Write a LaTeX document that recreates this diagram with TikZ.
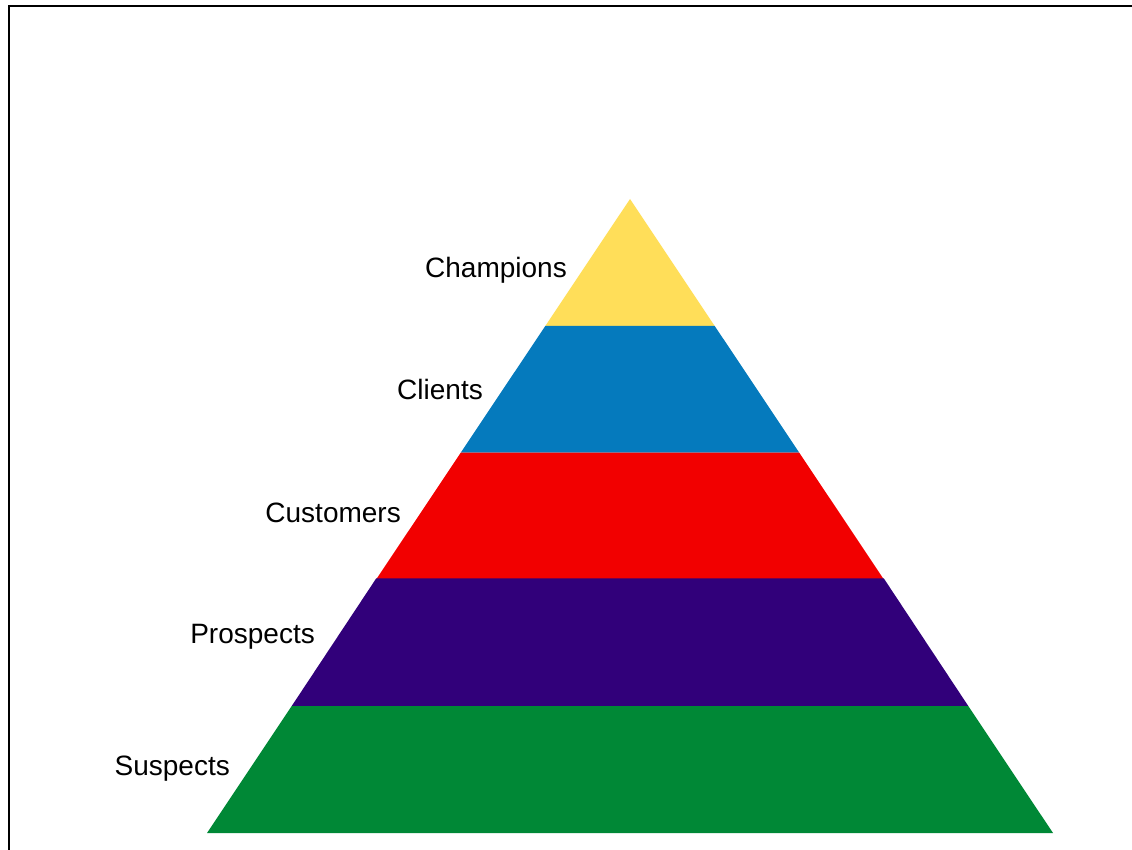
\documentclass[tikz,border=0pt]{standalone}
\usepackage{fontspec}
\setmainfont{Liberation Sans}
\definecolor{cYellow}{RGB}{255,222,89}
\definecolor{cBlue}{RGB}{5,122,189}
\definecolor{cRed}{RGB}{242,0,0}
\definecolor{cPurple}{RGB}{49,0,122}
\definecolor{cGreen}{RGB}{0,136,54}
\begin{document}
\begin{tikzpicture}[x=1pt,y=-1pt,
  lbl/.style={anchor=base east,inner sep=0pt,font=\fontsize{28}{30}\selectfont},
  band/.style={draw=none}]
\useasboundingbox (0,0) rectangle (1132,850);
% frame
\draw[line width=2pt] (9,850) -- (9,6) -- (1132,6);
% pyramid: apex (630,199), base (207,833)-(1054,833)
\fill[cYellow] (630,199) -- (545.4,325.8) -- (714.6,325.8) -- cycle;
\fill[cBlue] (545.4,325.8) -- (714.6,325.8) -- (799.2,452.6) -- (460.8,452.6) -- cycle;
\fill[cRed] (460.8,452.6) -- (799.2,452.6) -- (883.8,579.4) -- (376.2,579.4) -- cycle;
\fill[cPurple] (376.2,578.4) -- (883.8,578.4) -- (968.4,706.2) -- (291.6,706.2) -- cycle;
\fill[cGreen] (291.6,706.2) -- (968.4,706.2) -- (1053,833) -- (207,833) -- cycle;
% labels
\node[lbl] (champ) at (567,277) {Champions};
\node[lbl] (clients) at (483,399) {Clients};
\node[lbl] (cust) at (401,522) {Customers};
\node[lbl] (prosp) at (315,643) {Prospects};
\node[lbl] (susp) at (230,775) {Suspects};
\end{tikzpicture}
\end{document}
